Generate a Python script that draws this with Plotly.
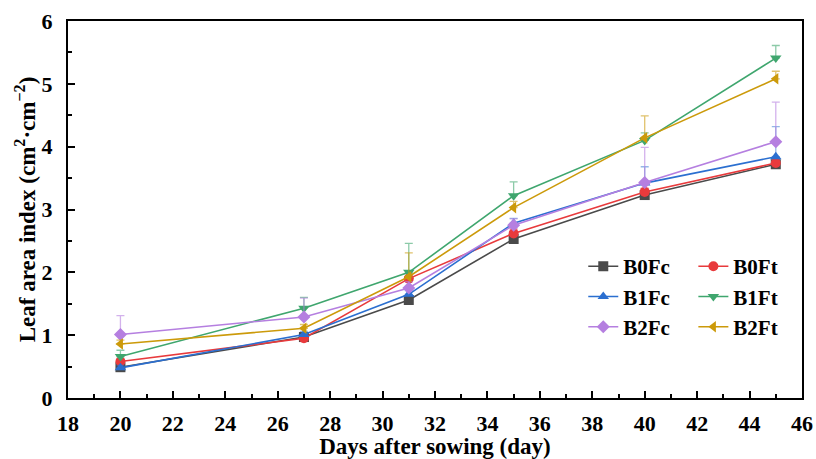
import plotly.graph_objects as go

days = [20, 27, 31, 35, 40, 45]
series_names = ["B0Fc", "B0Ft", "B1Fc", "B1Ft", "B2Fc", "B2Ft"]
B0Fc = [0.49, 0.97, 1.56, 2.53, 3.23, 3.72]
B0Ft = [0.58, 0.95, 1.90, 2.62, 3.28, 3.74]
B1Fc = [0.48, 1.01, 1.65, 2.78, 3.42, 3.84]
B1Ft = [0.66, 1.43, 2.00, 3.22, 4.10, 5.41]
B2Fc = [1.01, 1.29, 1.75, 2.75, 3.43, 4.08]
B2Ft = [0.86, 1.11, 1.93, 3.03, 4.14, 5.08]
err_B0Fc = [0.03, 0.04, 0.05, 0.06, 0.05, 0.06]
err_B0Ft = [0.05, 0.04, 0.08, 0.07, 0.06, 0.05]
err_B1Fc = [0.04, 0.05, 0.06, 0.08, 0.26, 0.48]
err_B1Ft = [0.10, 0.17, 0.46, 0.22, 0.12, 0.20]
err_B2Fc = [0.30, 0.30, 0.10, 0.10, 0.56, 0.63]
err_B2Ft = [0.06, 0.06, 0.38, 0.10, 0.35, 0.12]
x_ticks = [18, 20, 22, 24, 26, 28, 30, 32, 34, 36, 38, 40, 42, 44, 46]
y_ticks = [0, 1, 2, 3, 4, 5, 6]

values = [B0Fc, B0Ft, B1Fc, B1Ft, B2Fc, B2Ft]
errors = [err_B0Fc, err_B0Ft, err_B1Fc, err_B1Ft, err_B2Fc, err_B2Ft]
colors = ["#4a4a4a", "#e83a3c", "#2b6fd0", "#3fa66e", "#b57fe0", "#cc9a0a"]
err_colors = ["rgba(74,74,74,0.55)", "rgba(232,58,60,0.55)", "rgba(43,111,208,0.5)",
              "rgba(63,166,110,0.6)", "rgba(181,127,224,0.6)", "rgba(204,154,10,0.6)"]
symbols = ["square", "circle", "triangle-up", "triangle-down", "diamond", "triangle-left"]
legend_ids = ["legend", "legend2", "legend", "legend2", "legend", "legend2"]

fig = go.Figure()
for name, y, e, c, ec, s, lg in zip(series_names, values, errors, colors, err_colors, symbols, legend_ids):
    fig.add_trace(go.Scatter(
        x=days, y=y, name="<b>" + name + "</b>", mode="lines+markers",
        line=dict(color=c, width=1.6),
        marker=dict(symbol=s, size=10, color=c),
        error_y=dict(type="data", symmetric=False, array=e, arrayminus=[0] * len(e),
                     color=ec, thickness=1.3, width=4),
        legend=lg,
    ))

font_family = "Liberation Serif, Times New Roman, serif"
legend_style = dict(font=dict(family=font_family, size=21, color="black"),
                    bgcolor="rgba(0,0,0,0)", borderwidth=0,
                    tracegroupgap=0,
                    xanchor="left", yanchor="top")

fig.update_layout(
    width=816, height=459,
    margin=dict(l=68, r=14, t=21, b=61),
    plot_bgcolor="white", paper_bgcolor="white",
    font=dict(family=font_family, size=21, color="black"),
    legend=dict(x=0.702, y=0.403, **legend_style),
    legend2=dict(x=0.852, y=0.403, **legend_style),
    xaxis=dict(
        range=[18, 46], tickmode="array", tickvals=x_ticks,
        ticktext=["<b>%d</b>" % v for v in x_ticks],
        ticks="inside", ticklen=7, tickwidth=2, tickcolor="black",
        ticklabelstandoff=5, automargin=False,
        minor=dict(ticks="inside", ticklen=4, tickwidth=1.5, dtick=1, tickcolor="black"),
        showline=True, linecolor="black", linewidth=2, mirror=True,
        showgrid=False, zeroline=False,
        tickfont=dict(family=font_family, size=22, color="black"),
        title=dict(text="<b>Days after sowing (day)</b>", standoff=8,
                   font=dict(family=font_family, size=23, color="black")),
    ),
    yaxis=dict(
        range=[0, 6], tickmode="array", tickvals=y_ticks,
        ticktext=["<b>%d</b>" % v for v in y_ticks],
        ticks="inside", ticklen=7, tickwidth=2, tickcolor="black",
        ticklabelstandoff=9, automargin=False,
        minor=dict(ticks="inside", ticklen=4, tickwidth=1.5, dtick=0.5, tickcolor="black"),
        showline=True, linecolor="black", linewidth=2, mirror=True,
        showgrid=False, zeroline=False,
        tickfont=dict(family=font_family, size=22, color="black"),
        title=dict(text="<b>Leaf area index (cm<sup>2</sup>·cm<sup>−2</sup>)</b>", standoff=0,
                   font=dict(family=font_family, size=23, color="black")),
    ),
)

# Remove the default page margin so the figure sits exactly in the 816x459 window.
fig.write_html("out.html", config={"displayModeBar": False},
               post_script="document.body.style.margin='0px';")
